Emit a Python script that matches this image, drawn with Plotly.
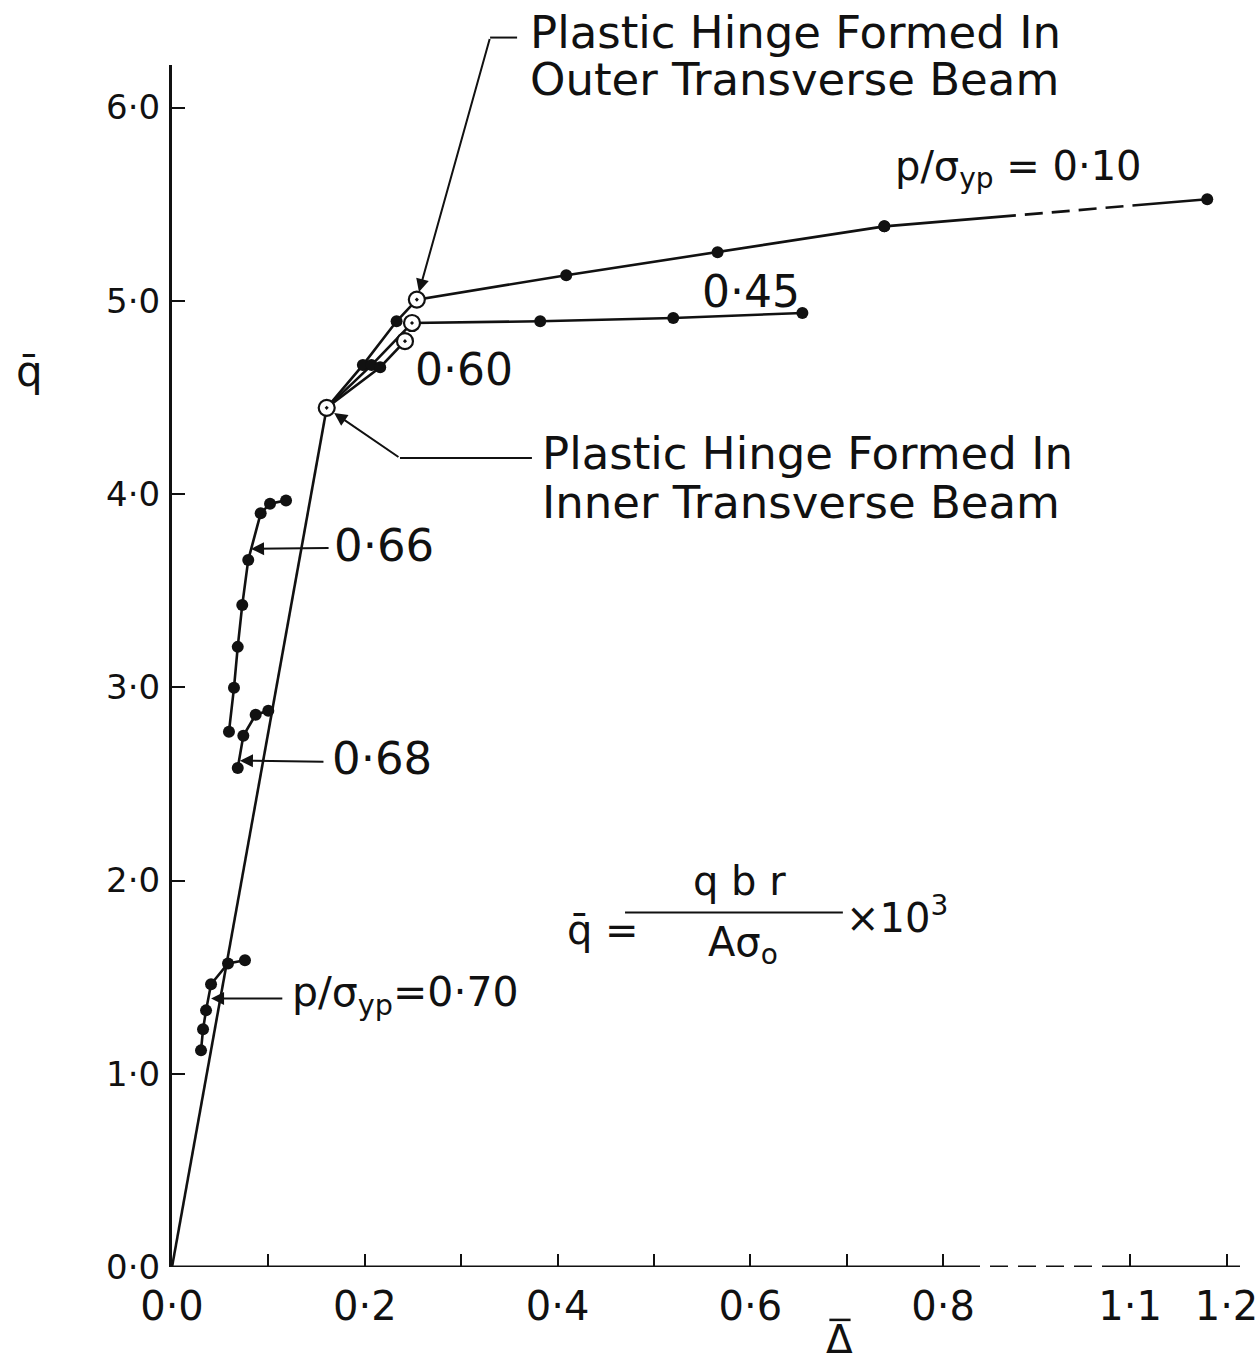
import plotly.graph_objects as go

# ---------------- data (actual Δ̄, q̄ values) ----------------
elastic_x = [0.0, 0.1605]
elastic_y = [0.0, 4.446]

p10_x = [0.1605, 0.198, 0.233, 0.254, 0.409, 0.566, 0.739, 1.18]
p10_y = [4.446, 4.667, 4.894, 5.006, 5.132, 5.251, 5.385, 5.525]

p45_x = [0.1605, 0.207, 0.249, 0.382, 0.520, 0.654]
p45_y = [4.446, 4.667, 4.885, 4.894, 4.911, 4.937]

p60_x = [0.1605, 0.216, 0.2417]
p60_y = [4.446, 4.656, 4.791]

p66_x = [0.0591, 0.0643, 0.0682, 0.0729, 0.0791, 0.0920, 0.1017, 0.1183]
p66_y = [2.770, 2.997, 3.209, 3.426, 3.659, 3.900, 3.950, 3.967]

p68_x = [0.0682, 0.0740, 0.0868, 0.0999]
p68_y = [2.582, 2.749, 2.858, 2.879]

p70_x = [0.0301, 0.0322, 0.0353, 0.0405, 0.0581, 0.0757]
p70_y = [1.121, 1.230, 1.328, 1.463, 1.571, 1.587]

x_tick_values = [0.0, 0.1, 0.2, 0.3, 0.4, 0.5, 0.6, 0.7, 0.8, 1.1, 1.2]
x_tick_labelled = [0.0, 0.2, 0.4, 0.6, 0.8, 1.1, 1.2]
y_tick_values = [0, 1, 2, 3, 4, 5, 6]

# broken x axis: values beyond the break are shifted left
BREAK_AT = 0.9
BREAK_SHIFT = 0.106

Y_MAX = 6.22
X_MAX = 1.108


def xd(v):
    return v if v < BREAK_AT else v - BREAK_SHIFT


def xs(lst):
    return [xd(v) for v in lst]


def fmt(v):
    return f"{v:.1f}".replace(".", "·")


FONT = "DejaVu Sans"
BLACK = "#111111"
LW = 2.6
MS = 12

fig = go.Figure()


def add_line(x, y, dash="solid", markers=True):
    fig.add_trace(go.Scatter(
        x=xs(x), y=y, mode="lines+markers" if markers else "lines",
        line=dict(color=BLACK, width=LW, dash=dash),
        marker=dict(color=BLACK, size=MS),
        cliponaxis=False, showlegend=False, hoverinfo="skip"))


# elastic line
add_line(elastic_x, elastic_y, markers=False)
# p/σyp = 0.10 (solid part, then broken last segment)
add_line(p10_x[:7], p10_y[:7])
add_line(p10_x[6:], p10_y[6:],
         dash="132px,9px,18px,9px,18px,9px,18px,9px,18px,9px,400px")
add_line(p45_x, p45_y)
add_line(p60_x, p60_y)
add_line(p66_x, p66_y)
add_line(p68_x, p68_y)
add_line(p70_x, p70_y)

# plastic hinge points (open circles)
hinge_x = [elastic_x[1], p10_x[3], p45_x[2], p60_x[2]]
hinge_y = [elastic_y[1], p10_y[3], p45_y[2], p60_y[2]]
fig.add_trace(go.Scatter(
    x=xs(hinge_x), y=hinge_y, mode="markers",
    marker=dict(symbol="circle-dot", size=16, color="white",
                line=dict(color=BLACK, width=2.2)),
    cliponaxis=False, showlegend=False, hoverinfo="skip"))

# ---------------- annotations ----------------
ann = []


def text(x, y, s, size=44, xanchor="left", yref="y", xref="x"):
    ann.append(dict(x=x, y=y, xref=xref, yref=yref, text=s, showarrow=False,
                    xanchor=xanchor, yanchor="middle",
                    font=dict(family=FONT, size=size, color=BLACK)))


def arrow(tx, ty, hx, hy, standoff=0):
    ann.append(dict(x=hx, y=hy, ax=tx, ay=ty, xref="x", yref="y",
                    axref="x", ayref="y", text="", showarrow=True,
                    arrowhead=2, arrowsize=1.3, arrowwidth=2.0,
                    arrowcolor=BLACK, standoff=standoff))


# outer hinge (first line lies above the axis range -> paper coords)
text(0.369, 6.390 / Y_MAX, "Plastic Hinge Formed In", size=45, yref="paper")
text(0.369, 6.145, "Outer Transverse Beam", size=45)
arrow(0.330, 6.362, xd(p10_x[3]), p10_y[3], standoff=8)
# inner hinge
text(0.3817, 4.210, "Plastic Hinge Formed In", size=45)
text(0.3817, 3.955, "Inner Transverse Beam", size=45)
arrow(0.2365, 4.186, xd(elastic_x[1]), elastic_y[1], standoff=9)

# series labels
text(0.748, 5.68, "p/σ<sub>yp</sub> = 0·10", size=40)
text(0.548, 5.049, "0·45", size=44)
text(0.250, 4.646, "0·60", size=44)
text(0.166, 3.731, "0·66", size=45)
arrow(0.164, 3.721, 0.082, 3.716)
text(0.164, 2.630, "0·68", size=45)
arrow(0.1587, 2.615, 0.0705, 2.620)
text(0.1224, 1.406, "p/σ<sub>yp</sub>=0·70", size=41)
arrow(0.116, 1.390, 0.0405, 1.390)

# formula
text(0.4076, 1.742, "q\u0304 =", size=40)
text(0.589, 2.00, "q b r", size=40, xanchor="center")
text(0.592, 1.664, "Aσ<sub>o</sub>", size=40, xanchor="center")
text(0.697, 1.819, "×10<sup>3</sup>", size=40)

# axis titles
text(0.693, -0.060, "Δ", size=39, xanchor="center", yref="paper")
text(-0.133, 4.636, "q\u0304", size=42, xanchor="center", xref="paper")

shapes = [
    # fraction bar
    dict(type="line", x0=0.470, x1=0.696, y0=1.835, y1=1.835,
         xref="x", yref="y", line=dict(color=BLACK, width=2)),
    # short leader dash (outer hinge label)
    dict(type="line", x0=0.330, x1=0.358, y0=6.362 / Y_MAX, y1=6.362 / Y_MAX,
         xref="x", yref="paper", line=dict(color=BLACK, width=2)),
    # leader (inner hinge label)
    dict(type="line", x0=0.2365, x1=0.3734, y0=4.186, y1=4.186,
         xref="x", yref="y", line=dict(color=BLACK, width=2)),
    # overbar of the x-axis title
    dict(type="line", x0=0.682, x1=0.704, y0=-0.044, y1=-0.044,
         xref="x", yref="paper", line=dict(color=BLACK, width=2.5)),
    # broken x axis line
    dict(type="line", x0=0, x1=1, y0=0, y1=0, xref="x domain", yref="y",
         line=dict(color=BLACK, width=3,
                   dash="808px,10px,18px,10px,18px,10px,18px,10px,18px,10px,400px")),
]

fig.update_layout(
    width=1259, height=1363,
    margin=dict(l=172, r=19, t=65, b=96),
    paper_bgcolor="white", plot_bgcolor="white",
    font=dict(family=FONT, color=BLACK),
    annotations=ann, shapes=shapes,
    showlegend=False,
)
fig.update_xaxes(
    range=[0, X_MAX], showgrid=False, zeroline=False, showline=False,
    automargin=False, ticklabeloverflow="allow",
    tickmode="array", tickvals=xs(x_tick_values),
    ticktext=[fmt(v) if v in x_tick_labelled else "" for v in x_tick_values],
    ticks="inside", ticklen=13, tickwidth=2, tickcolor=BLACK,
    tickfont=dict(family=FONT, size=40, color=BLACK), ticklabelstandoff=12,
)
fig.update_yaxes(
    range=[0, Y_MAX], showgrid=False, zeroline=False, showline=True,
    automargin=False,
    linecolor=BLACK, linewidth=3,
    tickmode="array", tickvals=y_tick_values,
    ticktext=[fmt(v) for v in y_tick_values],
    ticks="inside", ticklen=13, tickwidth=2, tickcolor=BLACK,
    tickfont=dict(family=FONT, size=34, color=BLACK), ticklabelstandoff=2,
)

# remove the default page margin so the figure fills the window exactly
fig.write_html(
    "out.html",
    config={"displayModeBar": False},
    post_script="document.body.style.margin='0';"
                "document.body.style.overflow='hidden';",
)
